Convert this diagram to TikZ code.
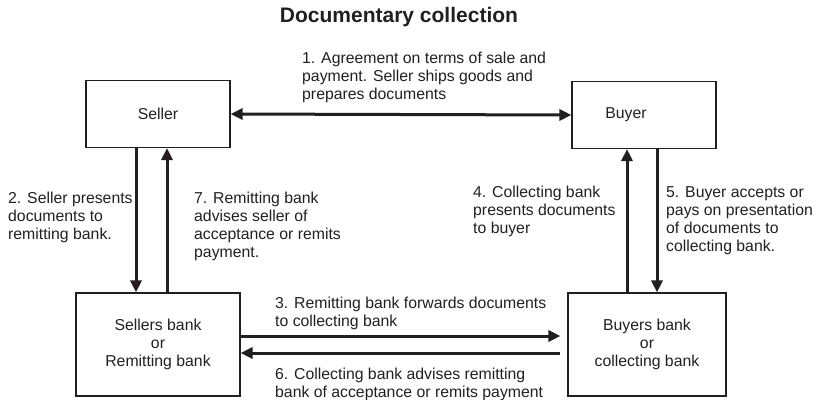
\documentclass[tikz,border=0pt]{standalone}
\usepackage{fontspec}
\setmainfont{Liberation Sans}
\usetikzlibrary{arrows.meta}

\definecolor{ink}{HTML}{231F20}

\begin{document}
\begin{tikzpicture}[x=1pt,y=-1pt,>/.tip={Triangle[length=12pt,width=11pt]},
	every node/.style={font=\fontsize{15.8}{18}\selectfont,text=ink},
	party/.style={draw=ink,line width=1.1pt,minimum width=144pt,minimum height=67pt,inner sep=0pt,align=center},
	bank/.style={draw=ink,line width=1.1pt,minimum height=103pt,inner sep=0pt,align=center},
	flow/.style={draw=ink,line width=3pt},
	note/.style={anchor=base west,align=left,inner sep=0pt}]
	\useasboundingbox (0,0) rectangle (818,399);

	\node (title) [anchor=base,font=\fontsize{21}{24}\selectfont\bfseries] at (399,22.7) {Documentary collection};

	% parties
	\node (seller) [party] at (158,114) {Seller};
	\node (buyer) [party] at (644,115) {};
	\node [xshift=-18pt] at (buyer) {Buyer};

	% banks
	\node (sbank) [bank,minimum width=164pt] at (158,344.5) {Sellers bank\\or\\Remitting bank};
	\node (bbank) [bank,minimum width=158pt] at (647,344.5) {Buyers bank\\or\\collecting bank};

	% steps (anchored on the last line)
	\node (step1) [note] at (302,99) {1. Agreement on terms of sale and\\payment. Seller ships goods and\\prepares documents};
	\node (step2) [note] at (8,239) {2. Seller presents\\documents to\\remitting bank.};
	\node (step7) [note] at (194,257) {7. Remitting bank\\advises seller of\\acceptance or remits\\payment.};
	\node (step4) [note] at (473,233) {4. Collecting bank\\presents documents\\to buyer};
	\node (step5) [note] at (666,251) {5. Buyer accepts or\\pays on presentation\\of documents to\\collecting bank.};
	\node (step3) [note] at (275,326) {3. Remitting bank forwards documents\\to collecting bank};
	\node (step6) [note] at (275,397) {6. Collecting bank advises remitting\\bank of acceptance or remits payment};

	\draw[flow,<->] (seller.east) -- (buyer.west);
	\draw[flow,->] ([xshift=-22pt]seller.south) -- ([xshift=-22pt]seller.south |- sbank.north);
	\draw[flow,->] ([xshift=9pt]sbank.north) -- ([xshift=9pt]sbank.north |- seller.south);
	\draw[flow,->] ([yshift=8.5pt]sbank.east) -- ([yshift=8.5pt]sbank.east -| bbank.west) [shorten >=7pt];
	\draw[flow,->] ([yshift=-8.5pt]sbank.east -| bbank.west) [shorten <=7pt] -- ([yshift=-8.5pt]sbank.east);
	\draw[flow,->] ([xshift=-20pt]bbank.north) -- ([xshift=-20pt]bbank.north |- buyer.south);
	\draw[flow,->] ([xshift=13pt]buyer.south) -- ([xshift=13pt]buyer.south |- bbank.north);
\end{tikzpicture}
\end{document}
